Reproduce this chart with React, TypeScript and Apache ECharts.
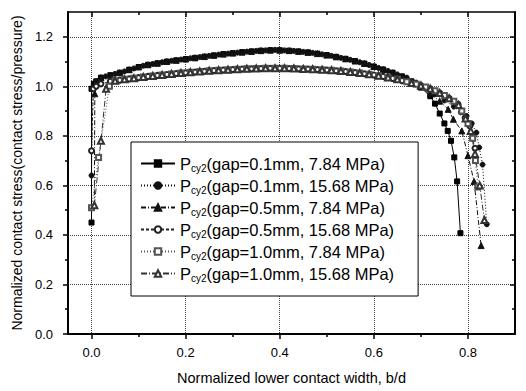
import React, { useEffect, useRef } from "react";
import * as echarts from "echarts";

// x positions of the body points (two interleaved sets)
const X_A = [0.02, 0.04, 0.06, 0.08, 0.10, 0.12, 0.14, 0.16, 0.18, 0.20, 0.22, 0.24, 0.26, 0.28, 0.30, 0.32, 0.34, 0.36, 0.38, 0.40, 0.42, 0.44, 0.46, 0.48, 0.50, 0.52, 0.54, 0.56, 0.58, 0.60, 0.62, 0.64, 0.66];
const X_B = [0.03, 0.05, 0.07, 0.09, 0.11, 0.13, 0.15, 0.17, 0.19, 0.21, 0.23, 0.25, 0.27, 0.29, 0.31, 0.33, 0.35, 0.37, 0.39, 0.41, 0.43, 0.45, 0.47, 0.49, 0.51, 0.53, 0.55, 0.57, 0.59, 0.61, 0.63, 0.65];

// upper band (0.1mm / 7.84 group) and lower band values
const UPPER_A = [1.035, 1.045, 1.055, 1.067, 1.078, 1.087, 1.093, 1.1, 1.105, 1.11, 1.115, 1.12, 1.125, 1.13, 1.134, 1.138, 1.141, 1.144, 1.146, 1.146, 1.144, 1.141, 1.137, 1.132, 1.126, 1.119, 1.111, 1.102, 1.092, 1.08, 1.068, 1.055, 1.04];
const UPPER_B = [1.04, 1.05, 1.06, 1.072, 1.083, 1.09, 1.097, 1.103, 1.108, 1.113, 1.118, 1.123, 1.128, 1.132, 1.136, 1.14, 1.143, 1.145, 1.147, 1.145, 1.143, 1.139, 1.135, 1.129, 1.123, 1.115, 1.107, 1.097, 1.086, 1.074, 1.062, 1.048];
const LOWER_A = [1.01, 1.02, 1.025, 1.03, 1.035, 1.04, 1.044, 1.048, 1.052, 1.055, 1.058, 1.061, 1.064, 1.066, 1.068, 1.07, 1.071, 1.072, 1.073, 1.073, 1.072, 1.071, 1.07, 1.068, 1.066, 1.063, 1.06, 1.056, 1.051, 1.046, 1.04, 1.032, 1.023];
const LOWER_B = [1.015, 1.022, 1.028, 1.033, 1.038, 1.042, 1.046, 1.05, 1.054, 1.057, 1.06, 1.063, 1.065, 1.067, 1.069, 1.071, 1.072, 1.073, 1.073, 1.073, 1.072, 1.07, 1.069, 1.067, 1.065, 1.062, 1.058, 1.054, 1.049, 1.043, 1.036, 1.028];

// start and end segments of each series [x, y]
const S1_HEAD = [[0, 0.45], [0, 0.99], [0.005, 1.01], [0.01, 1.02]];
const S1_TAIL = [[0.68, 1.02], [0.70, 0.995], [0.72, 0.96], [0.73, 0.93], [0.74, 0.89], [0.75, 0.85], [0.757, 0.82], [0.764, 0.78], [0.771, 0.713], [0.777, 0.616], [0.784, 0.407]];
const S2_HEAD = [[0, 0.64], [0.003, 0.99], [0.01, 1.02]];
const S2_TAIL = [[0.67, 1.035], [0.69, 1.015], [0.71, 0.993], [0.73, 0.968], [0.75, 0.943], [0.77, 0.918], [0.785, 0.895], [0.797, 0.88], [0.808, 0.85], [0.818, 0.813], [0.824, 0.753], [0.831, 0.684], [0.84, 0.443]];
const S3_HEAD = [[0.006, 0.52], [0.007, 0.97], [0.012, 1.02]];
const S3_TAIL = [[0.68, 1.02], [0.70, 0.998], [0.72, 0.97], [0.74, 0.94], [0.758, 0.907], [0.769, 0.867], [0.787, 0.82], [0.80, 0.72], [0.813, 0.616], [0.828, 0.357]];
const S4_HEAD = [[0, 0.74], [0.004, 0.99], [0.01, 1.0]];
const S4_TAIL = [[0.68, 1.013], [0.70, 1.003], [0.72, 0.99], [0.74, 0.973], [0.76, 0.952], [0.779, 0.927], [0.794, 0.873], [0.804, 0.84], [0.81, 0.79], [0.815, 0.75]];
const S5_HEAD = [[0, 0.51], [0.015, 0.713], [0.038, 1.0]];
const S5_TAIL = [[0.67, 1.018], [0.69, 1.008], [0.71, 0.997], [0.73, 0.982], [0.75, 0.963], [0.77, 0.94], [0.787, 0.9], [0.8, 0.85], [0.81, 0.79], [0.816, 0.7], [0.821, 0.593]];
const S6_HEAD = [[0.006, 0.52], [0.02, 0.78], [0.031, 0.99]];
const S6_TAIL = [[0.68, 1.013], [0.70, 1.003], [0.72, 0.99], [0.74, 0.973], [0.76, 0.952], [0.78, 0.925], [0.795, 0.87], [0.806, 0.82], [0.815, 0.727], [0.825, 0.6], [0.835, 0.46]];

const NAMES = [
  "(gap=0.1mm, 7.84 MPa)",
  "(gap=0.1mm, 15.68 MPa)",
  "(gap=0.5mm, 7.84 MPa)",
  "(gap=0.5mm, 15.68 MPa)",
  "(gap=1.0mm, 7.84 MPa)",
  "(gap=1.0mm, 15.68 MPa)",
];

const X_MAJOR = [0, 0.2, 0.4, 0.6, 0.8];
const X_MINOR = [0.1, 0.3, 0.5, 0.7];
const Y_MAJOR = [0, 0.2, 0.4, 0.6, 0.8, 1.0, 1.2];
const Y_MINOR = [0.1, 0.3, 0.5, 0.7, 0.9, 1.1];

const FONT = "Liberation Sans, Arial, Helvetica, sans-serif";

function build(head: number[][], xs: number[], ys: number[], start: number, tail: number[][]) {
  const body = xs.map((x, i) => [x, ys[i]]).slice(start);
  return [...head, ...body, ...tail];
}

export default function App() {
  const ref = useRef<HTMLDivElement>(null);
  useEffect(() => {
    document.body.style.margin = "0";
    if (!ref.current) return;
    const chart = echarts.init(ref.current, null, { renderer: "svg" });

    const axisBase = (kind: "x" | "y", pos: string, values: number[], len: number, inside: boolean, main: boolean, showLine: boolean, lineW: number) => ({
      type: "value",
      min: kind === "x" ? -0.05 : 0,
      max: kind === "x" ? 0.9 : 1.3,
      position: pos,
      axisLine: { show: showLine, onZero: false, lineStyle: { color: "#000", width: lineW } },
      axisTick: { show: true, customValues: values, length: len, inside, lineStyle: { color: "#000", width: 1.5 } },
      axisLabel: main
        ? {
            show: true,
            customValues: values,
            formatter: (v: number) => v.toFixed(1),
            margin: kind === "x" ? 12 : 15,
            color: "#000",
            fontSize: 13,
            fontFamily: FONT,
          }
        : { show: false },
      splitLine: main
        ? { show: true, lineStyle: { color: "#444", type: [1, 1], width: 1 } }
        : { show: false },
    });

    const xAxes = [
      {
        ...axisBase("x", "bottom", X_MAJOR, 5, false, true, true, 2),
        name: "Normalized lower contact width, b/d",
        nameLocation: "middle",
        nameGap: 36,
        nameTextStyle: { color: "#000", fontSize: 14.5, fontFamily: FONT },
      },
      axisBase("x", "bottom", X_MINOR, 3, false, false, false, 1),
      axisBase("x", "top", X_MAJOR, 5, true, false, true, 1.5),
      axisBase("x", "top", X_MINOR, 3, true, false, false, 1),
    ];
    const yAxes = [
      {
        ...axisBase("y", "left", Y_MAJOR, 5, false, true, true, 2),
        name: "Normalized contact stress(contact stress/pressure)",
        nameLocation: "middle",
        nameGap: 42,
        nameTextStyle: { color: "#000", fontSize: 14, fontFamily: FONT },
      },
      axisBase("y", "left", Y_MINOR, 3, false, false, false, 1),
      axisBase("y", "right", Y_MAJOR, 5, true, false, true, 2),
      axisBase("y", "right", Y_MINOR, 3, true, false, false, 1),
    ];

    const specs = [
      { data: build(S1_HEAD, X_A, UPPER_A, 0, S1_TAIL), symbol: "rect", size: 5, type: "solid", color: "#000" },
      { data: build(S2_HEAD, X_B, UPPER_B, 0, S2_TAIL), symbol: "circle", size: 5, type: [1, 2], color: "#111" },
      { data: build(S3_HEAD, X_A, UPPER_A, 0, S3_TAIL), symbol: "triangle", size: 6, type: [5, 2, 1, 2], color: "#111" },
      { data: build(S4_HEAD, X_A, LOWER_A, 0, S4_TAIL), symbol: "emptyCircle", size: 5, type: [3, 2], color: "#222" },
      { data: build(S5_HEAD, X_B, LOWER_B, 1, S5_TAIL), symbol: "emptyRect", size: 5, type: [1, 2], color: "#555" },
      { data: build(S6_HEAD, X_B, LOWER_B, 1, S6_TAIL), symbol: "emptyTriangle", size: 6, type: [6, 2, 1, 2], color: "#333" },
    ];

    const series = specs.map((s, i) => ({
      name: NAMES[i],
      type: "line",
      xAxisIndex: 0,
      yAxisIndex: 0,
      data: s.data,
      symbol: s.symbol,
      symbolSize: s.size,
      showAllSymbol: true,
      lineStyle: { color: s.color, width: 1, type: s.type },
      itemStyle: { color: s.color, borderColor: s.color, borderWidth: 1 },
      emphasis: { disabled: true },
    }));

    chart.setOption({
      animation: false,
      backgroundColor: "#fff",
      grid: { left: 68, right: 11, top: 12, bottom: 57, containLabel: false },
      xAxis: xAxes,
      yAxis: yAxes,
      legend: {
        data: NAMES,
        orient: "vertical",
        left: 131,
        top: 142,
        padding: [12, 24, 13, 9],
        itemGap: 3,
        itemWidth: 34,
        itemHeight: 8,
        backgroundColor: "#fff",
        borderColor: "#000",
        borderWidth: 1,
        borderRadius: 0,
        selectedMode: false,
        formatter: (name: string) => `{p|P}{s|cy2}{t|${name}}`,
        textStyle: {
          color: "#000",
          fontFamily: FONT,
          rich: {
            p: { fontSize: 16.5, lineHeight: 18, fontFamily: FONT, color: "#000" },
            s: { fontSize: 10, lineHeight: 18, padding: [9, 0, 0, 0], fontFamily: FONT, color: "#000" },
            t: { fontSize: 16.5, lineHeight: 18, fontFamily: FONT, color: "#000" },
          },
        },
      },
      series,
    });
    return () => chart.dispose();
  }, []);
  return <div ref={ref} style={{ width: 526, height: 391 }} />;
}
